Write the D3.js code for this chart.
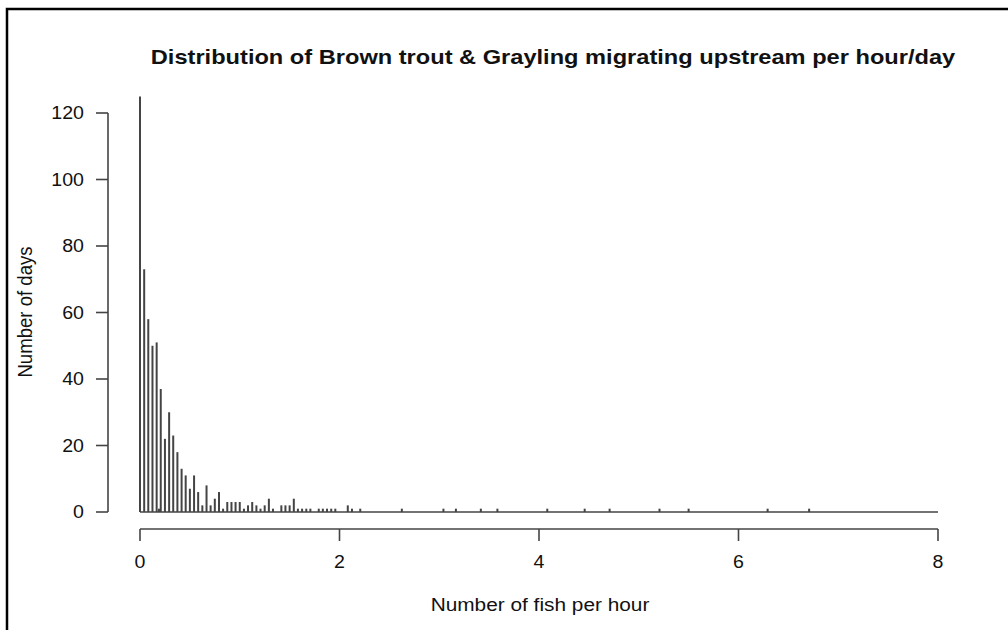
<!DOCTYPE html>
<html lang="en">
<head>
  <meta charset="UTF-8">
  <title>Fish per hour</title>
  <script src="https://d3js.org/d3.v7.min.js"></script>
  <style>
    body { margin: 0; background: #fff; }
    svg text { font-family: "Liberation Sans", Arial, sans-serif; fill: #111; }
  </style>
</head>
<body>
  <script>
    // number of fish per hour (x) and number of days with that rate (y)
    const fishPerHour = [
      0.000, 0.042, 0.083, 0.125, 0.167, 0.190, 0.208, 0.250, 0.292, 0.333,
      0.375, 0.417, 0.458, 0.500, 0.542, 0.583, 0.625, 0.667, 0.708, 0.750,
      0.792, 0.833, 0.875, 0.917, 0.958, 1.000, 1.042, 1.083, 1.125, 1.167,
      1.208, 1.250, 1.292, 1.333, 1.417, 1.458, 1.500, 1.542, 1.583, 1.625,
      1.667, 1.708, 1.792, 1.833, 1.875, 1.917, 1.958, 2.083, 2.125, 2.208,
      2.625, 3.042, 3.167, 3.417, 3.583, 4.083, 4.458, 4.708, 5.208, 5.500,
      6.292, 6.708
    ];
    const days = [
      125, 73, 58, 50, 51, 1, 37, 22, 30, 23,
      18, 13, 11, 7, 11, 6, 2, 8, 2, 4,
      6, 1, 3, 3, 3, 3, 1, 2, 3, 2,
      1, 2, 4, 1, 2, 2, 2, 4, 1, 1,
      1, 1, 1, 1, 1, 1, 1, 2, 1, 1,
      1, 1, 1, 1, 1, 1, 1, 1, 1, 1,
      1, 1
    ];
    const xTicks = [0, 2, 4, 6, 8];
    const yTicks = [0, 20, 40, 60, 80, 100, 120];

    const width = 1008, height = 630;
    const sx = 1.12; // the original picture is a little stretched sideways

    const x = d3.scaleLinear().domain([0, 8]).range([140, 938]);
    const y = d3.scaleLinear().domain([0, 120]).range([512, 113]);

    const svg = d3.select("body").append("svg")
      .attr("width", width)
      .attr("height", height);

    // outer frame (cut off at right and bottom)
    svg.append("path")
      .attr("d", `M7,${height + 5} V9 H${width + 5}`)
      .attr("fill", "none")
      .attr("stroke", "#000")
      .attr("stroke-width", 2.5);

    function label(txt, px, py, size, opts = {}) {
      const g = svg.append("g")
        .attr("transform", `translate(${px},${py}) scale(${sx},1)` + (opts.rotate ? " rotate(-90)" : ""));
      g.append("text")
        .attr("text-anchor", opts.anchor || "middle")
        .attr("dominant-baseline", "central")
        .style("font-size", size + "px")
        .style("font-weight", opts.bold ? "bold" : "normal")
        .text(txt);
    }

    label("Distribution of Brown trout & Grayling migrating upstream per hour/day", 553, 57, 21.1, { bold: true });

    // baseline at zero
    svg.append("line")
      .attr("x1", x(0)).attr("x2", x(8))
      .attr("y1", y(0)).attr("y2", y(0))
      .attr("stroke", "#444").attr("stroke-width", 1.6);

    // vertical bars (type = "h")
    svg.selectAll(".bar")
      .data(fishPerHour)
      .enter().append("line")
      .attr("class", "bar")
      .attr("x1", d => x(d)).attr("x2", d => x(d))
      .attr("y1", y(0))
      .attr("y2", (d, i) => y(days[i]))
      .attr("stroke", "#444")
      .attr("stroke-width", 2);

    // y axis
    const yAxisX = 108;
    svg.append("line")
      .attr("x1", yAxisX).attr("x2", yAxisX)
      .attr("y1", y(0)).attr("y2", y(120))
      .attr("stroke", "#444").attr("stroke-width", 1.6);
    svg.selectAll(".ytick")
      .data(yTicks)
      .enter().append("line")
      .attr("x1", yAxisX - 12).attr("x2", yAxisX)
      .attr("y1", d => y(d)).attr("y2", d => y(d))
      .attr("stroke", "#444").attr("stroke-width", 1.6);
    yTicks.forEach(t => label(String(t), yAxisX - 24, y(t), 17.5, { anchor: "end" }));

    // x axis
    const xAxisY = 529;
    svg.append("line")
      .attr("x1", x(0)).attr("x2", x(8))
      .attr("y1", xAxisY).attr("y2", xAxisY)
      .attr("stroke", "#444").attr("stroke-width", 1.6);
    svg.selectAll(".xtick")
      .data(xTicks)
      .enter().append("line")
      .attr("x1", d => x(d)).attr("x2", d => x(d))
      .attr("y1", xAxisY).attr("y2", xAxisY + 12)
      .attr("stroke", "#444").attr("stroke-width", 1.6);
    xTicks.forEach(t => label(String(t), x(t), 562, 17.5));

    label("Number of fish per hour", 540, 604, 18.6);
    label("Number of days", 25, 312, 18.6, { rotate: true });
  </script>
</body>
</html>
